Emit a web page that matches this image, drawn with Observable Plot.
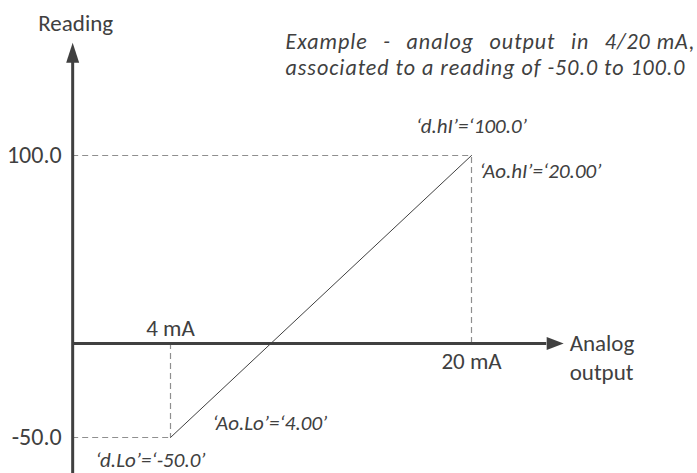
<!DOCTYPE html>
<html>
<head>
<meta charset="utf-8">
<script src="https://cdn.jsdelivr.net/npm/d3@7"></script>
<script src="https://cdn.jsdelivr.net/npm/@observablehq/plot@0.6"></script>
<style>
  html, body { margin: 0; padding: 0; background: #fff; }
  #chart svg { display: block; }
</style>
</head>
<body>
<div id="chart"></div>
<script>
// ---- data ----
const outputMA = [4, 20];              // analog output (mA)
const readings = [-50, 100];           // associated reading
const xTickLabels = ["4 mA", "20 mA"];
const yTickLabels = ["-50.0", "100.0"];
const lowLabels = ["‘Ao.Lo’=‘4.00’", "‘d.Lo’=‘-50.0’"];
const highLabels = ["‘d.hI’=‘100.0’", "‘Ao.hI’=‘20.00’"];
const titleLines = [
  "Example - analog output in 4/20\u202FmA,",
  "associated to a reading of -50.0 to 100.0"
];
const yAxisTitle = "Reading";
const xAxisTitle = "Analog\noutput";

// ---- diagram geometry (axis extents, data units) ----
const yAxisAt = -1.2;       // mA where vertical axis sits
const yAxisBottom = -70;
const yAxisTip = 160;
const yAxisShaftEnd = 152;
const xAxisTip = 24.9;
const xAxisShaftEnd = 24.0;

const points = outputMA.map((x, i) => ({x, y: readings[i]}));
const lo = points[0], hi = points[1];

const ink = "#404040";
const guide = "#8f8f8f";
const font = "Carlito, Calibri, Lato, sans-serif";

const arrowUp = {draw(ctx) { ctx.moveTo(0, 0); ctx.lineTo(6.5, 20); ctx.lineTo(-6.5, 20); ctx.closePath(); }};
const arrowRight = {draw(ctx) { ctx.moveTo(0, 0); ctx.lineTo(-17, -6.5); ctx.lineTo(-17, 6.5); ctx.closePath(); }};

const chart = Plot.plot({
  width: 697,
  height: 473,
  margin: 0,
  style: {fontFamily: font, background: "#fff"},
  x: {domain: [4, 20], range: [170, 471], axis: null},
  y: {domain: [-50, 100], range: [437, 155], axis: null},
  marks: [
    // dashed guides
    Plot.ruleY(points, {y: "y", x1: yAxisAt, x2: "x", stroke: guide, strokeWidth: 1.2, strokeDasharray: "6,4"}),
    Plot.ruleX(points, {x: "x", y1: 0, y2: "y", stroke: guide, strokeWidth: 1.2, strokeDasharray: "6,4"}),
    // transfer line
    Plot.line(points, {x: "x", y: "y", stroke: ink, strokeWidth: 1}),
    // axes
    Plot.ruleX([yAxisAt], {y1: yAxisBottom, y2: yAxisShaftEnd, stroke: ink, strokeWidth: 3}),
    Plot.ruleY([0], {x1: yAxisAt, x2: xAxisShaftEnd, stroke: ink, strokeWidth: 3}),
    Plot.dot([{x: yAxisAt, y: yAxisTip}], {x: "x", y: "y", symbol: arrowUp, fill: ink, stroke: "none"}),
    Plot.dot([{x: xAxisTip, y: 0}], {x: "x", y: "y", symbol: arrowRight, fill: ink, stroke: "none"}),
    // axis titles
    Plot.text([yAxisTitle], {x: yAxisAt, y: yAxisTip, text: d => d, dx: 3, dy: -19, fontSize: 23, fill: ink}),
    Plot.text([xAxisTitle], {x: xAxisTip, y: 0, text: d => d, dx: 6, dy: 13, textAnchor: "start", lineHeight: 1.25, fontSize: 23, fill: ink}),
    // tick labels
    Plot.text(yTickLabels, {x: yAxisAt, y: (d, i) => readings[i], text: d => d, dx: -11, textAnchor: "end", fontSize: 24, fill: ink}),
    Plot.text([xTickLabels[0]], {x: outputMA[0], y: 0, text: d => d, dy: -15, fontSize: 23, fill: ink}),
    Plot.text([xTickLabels[1]], {x: outputMA[1], y: 0, text: d => d, dy: 18, fontSize: 23, fill: ink}),
    // parameter labels
    Plot.text([lowLabels[0]], {x: lo.x, y: lo.y, text: d => d, dx: 42, dy: -14, textAnchor: "start", fontStyle: "italic", fontSize: 21, fill: ink}),
    Plot.text([lowLabels[1]], {x: lo.x, y: lo.y, text: d => d, dx: -20, dy: 23, fontStyle: "italic", fontSize: 21, fill: ink}),
    Plot.text([highLabels[0]], {x: hi.x, y: hi.y, text: d => d, dy: -29, fontStyle: "italic", fontSize: 21, fill: ink}),
    Plot.text([highLabels[1]], {x: hi.x, y: hi.y, text: d => d, dx: 8, dy: 16, textAnchor: "start", fontStyle: "italic", fontSize: 21, fill: ink}),
    // title (two lines)
    Plot.text([titleLines[0]], {frameAnchor: "top-left", text: d => d, dx: 285, dy: 41, textAnchor: "start", lineAnchor: "middle", fontStyle: "italic", fontSize: 22, fill: ink}),
    Plot.text([titleLines[1]], {frameAnchor: "top-left", text: d => d, dx: 285, dy: 67, textAnchor: "start", lineAnchor: "middle", fontStyle: "italic", fontSize: 22, fill: ink})
  ]
});

document.getElementById("chart").append(chart);

// widen / justify the title like the reference
let t1 = null, t2 = null;
for (const t of chart.querySelectorAll("text")) {
  if (t.textContent === titleLines[0]) t1 = t;
  if (t.textContent === titleLines[1]) t2 = t;
}
let ls = 0;
if (t2) {
  const len2 = t2.getComputedTextLength();
  const n2 = titleLines[1].length;
  ls = Math.max(0, (400 - len2) / n2);
  t2.style.letterSpacing = ls + "px";
}
if (t1) {
  t1.style.letterSpacing = ls + "px";
  const len1 = t1.getComputedTextLength();
  const gaps = (titleLines[0].match(/ /g) || []).length;
  const target = 410;
  if (gaps && len1 < target) t1.style.wordSpacing = ((target - len1) / gaps) + "px";
}
</script>
</body>
</html>
